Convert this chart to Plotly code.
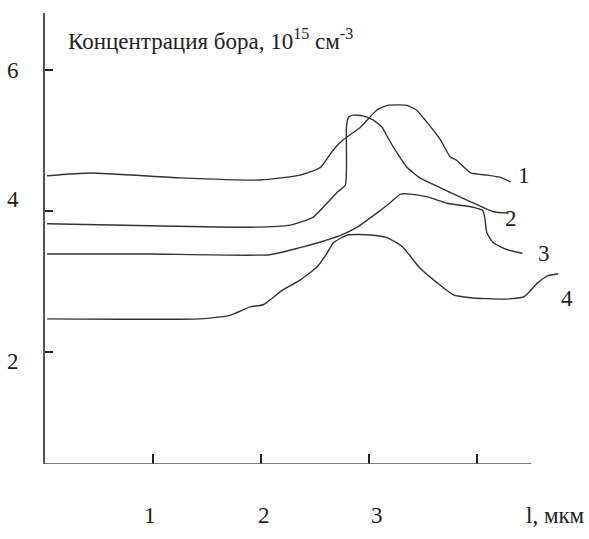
import plotly.graph_objects as go

# Curve data (x in мкм, y in 10^15 см^-3)
x1 = [0.02, 0.42, 1.25, 1.99, 2.36, 2.55, 2.67, 2.76, 2.92, 3.07, 3.17, 3.35, 3.44, 3.54, 3.66, 3.75, 3.81, 3.94, 4.09, 4.21, 4.31]
y1 = [4.50, 4.54, 4.47, 4.44, 4.51, 4.62, 4.87, 5.01, 5.19, 5.43, 5.50, 5.50, 5.43, 5.25, 5.01, 4.77, 4.72, 4.54, 4.51, 4.48, 4.41]

x2 = [0.02, 0.97, 1.90, 2.27, 2.48, 2.61, 2.70, 2.78, 2.79, 2.79, 2.81, 2.85, 2.94, 3.04, 3.12, 3.17, 3.26, 3.35, 3.47, 3.66, 3.84, 4.00, 4.15, 4.29]
y2 = [3.82, 3.79, 3.77, 3.80, 3.91, 4.11, 4.26, 4.37, 4.87, 5.19, 5.33, 5.36, 5.35, 5.29, 5.19, 5.05, 4.82, 4.62, 4.47, 4.33, 4.20, 4.09, 3.99, 3.97]

x3 = [0.02, 0.97, 2.08, 2.36, 2.55, 2.73, 2.89, 3.07, 3.19, 3.29, 3.38, 3.54, 3.72, 3.94, 4.05, 4.07, 4.09, 4.15, 4.28, 4.42]
y3 = [3.39, 3.39, 3.38, 3.48, 3.56, 3.65, 3.77, 3.97, 4.11, 4.24, 4.24, 4.20, 4.11, 4.06, 4.01, 3.91, 3.69, 3.55, 3.45, 3.40]

x4 = [0.02, 1.44, 1.71, 1.90, 2.02, 2.20, 2.36, 2.52, 2.61, 2.67, 2.80, 3.01, 3.17, 3.31, 3.47, 3.63, 3.78, 3.94, 4.24, 4.43, 4.56, 4.65, 4.75]
y4 = [2.47, 2.47, 2.52, 2.64, 2.67, 2.88, 3.02, 3.21, 3.40, 3.55, 3.66, 3.66, 3.62, 3.49, 3.19, 2.98, 2.81, 2.77, 2.75, 2.78, 2.98, 3.08, 3.11]

curve_names = ["1", "2", "3", "4"]
label_pos = [(4.43, 4.51), (4.31, 3.90), (4.62, 3.40), (4.83, 2.76)]

x_ticks = [1, 2, 3, 4]
x_tick_labels = ["1", "2", "3", "l, мкм"]
x_label_pos = [0.97, 2.03, 3.07, 4.43]
x_label_anchor = ["center", "center", "center", "left"]
y_ticks = [2, 4, 6]
y_tick_labels = ["2", "4", "6"]
y_label_pos = [1.86, 4.16, 6.0]
title_text = "Концентрация бора, 10<sup>15</sup> см<sup>-3</sup>"

XMIN, XMAX = 0, 4.85
YMIN, YMAX = 0.41, 6.81

serif = "Liberation Serif, Times New Roman, serif"
line_col = "#333333"
txt_font = dict(family=serif, size=23, color="#222222")

fig = go.Figure()
for xs, ys in [(x1, y1), (x2, y2), (x3, y3), (x4, y4)]:
    fig.add_trace(go.Scatter(x=xs, y=ys, mode="lines",
                             line=dict(color=line_col, width=1.4, shape="spline", smoothing=0.5),
                             showlegend=False, hoverinfo="skip"))

# x-axis line (only up to 4.5)
fig.add_shape(type="line", x0=0, x1=4.5, y0=YMIN, y1=YMIN, xref="x", yref="y",
              line=dict(color="#555555", width=1.6))

for name, (lx, ly) in zip(curve_names, label_pos):
    fig.add_annotation(x=lx, y=ly, xref="x", yref="y", text=name, showarrow=False, font=txt_font)
for t, lx, anc in zip(x_tick_labels, x_label_pos, x_label_anchor):
    fig.add_annotation(x=lx, y=0, xref="x", yref="paper", yshift=-66, text=t, xanchor=anc,
                       showarrow=False, font=txt_font)
for t, ly in zip(y_tick_labels, y_label_pos):
    fig.add_annotation(x=0, y=ly, xref="x", yref="y", xshift=-32, text=t,
                       showarrow=False, font=txt_font)
fig.add_annotation(x=0.19, y=6.43, xref="x", yref="y", xanchor="left", yanchor="middle",
                   text=title_text, showarrow=False, font=txt_font)

fig.update_layout(
    width=589, height=539,
    margin=dict(l=45, r=20, t=13, b=75),
    font=dict(family=serif, size=23, color="#222222"),
    paper_bgcolor="white", plot_bgcolor="white",
    xaxis=dict(range=[XMIN, XMAX], showgrid=False, zeroline=False, showline=False,
               tickvals=x_ticks, ticks="inside", ticklen=10, tickwidth=1.5, tickcolor="#222222",
               showticklabels=False, fixedrange=True),
    yaxis=dict(range=[YMIN, YMAX], showgrid=False, zeroline=False, showline=True,
               linecolor="#555555", linewidth=1.6,
               tickvals=y_ticks, ticks="inside", ticklen=8, tickwidth=1.5, tickcolor="#222222",
               showticklabels=False, fixedrange=True),
)

fig.write_html("out.html", config={"displayModeBar": False},
               post_script="document.body.style.margin='0';document.body.style.overflow='hidden';")
